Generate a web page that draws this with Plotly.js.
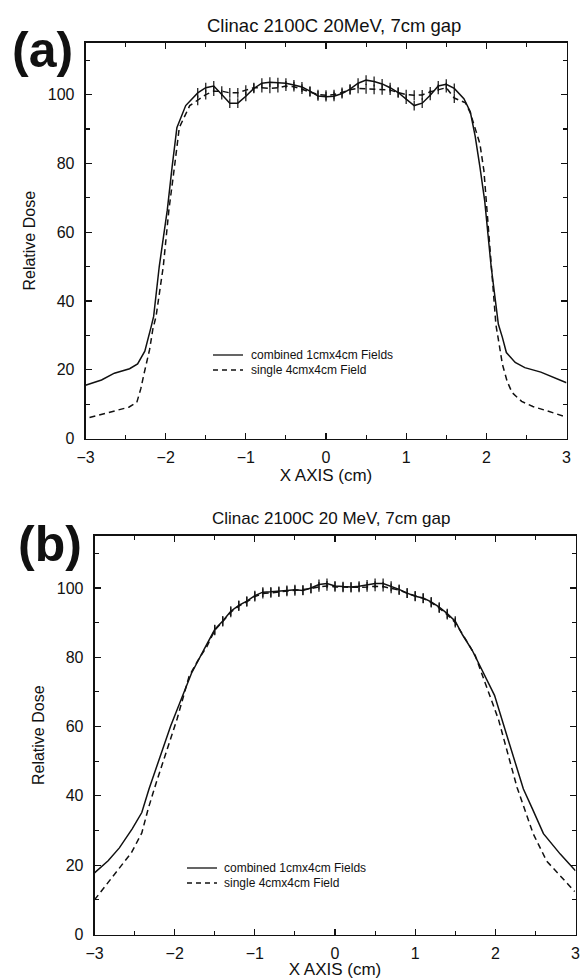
<!DOCTYPE html>
<html>
<head>
<meta charset="utf-8">
<script src="https://cdn.plot.ly/plotly-3.0.1.min.js"></script>
<style>html,body{margin:0;padding:0;background:#fff;}#chart{width:584px;height:979px;}</style>
</head>
<body>
<div id="chart"></div>
<script>
// ---------- DATA ----------
// Panel (a): Clinac 2100C 20MeV, 7cm gap
const aSolidX = [-3.0,-2.8,-2.64,-2.45,-2.35,-2.26,-2.18,-2.15,-2.08,-1.98,-1.92,-1.86,-1.75,
  -1.6,-1.5,-1.4,-1.3,-1.2,-1.1,-1.0,-0.9,-0.8,-0.7,-0.6,-0.5,-0.4,-0.3,-0.2,-0.1,0.0,
  0.1,0.2,0.3,0.4,0.5,0.6,0.7,0.8,0.9,1.0,1.1,1.2,1.3,1.4,1.5,1.6,
  1.72,1.8,1.86,1.92,1.98,2.06,2.15,2.2,2.25,2.36,2.48,2.68,2.85,3.0];
const aSolidY = [15.5,17.0,19.0,20.3,21.7,25.4,32.6,35.5,50.0,66.4,78.9,90.4,96.8,
  100.5,102.0,102.5,100.0,97.5,97.5,99.5,101.8,103.3,103.6,103.5,103.3,102.8,102.2,101.0,99.6,99.4,
  99.5,100.3,101.6,103.3,104.2,103.8,103.1,102.0,100.6,98.7,96.8,97.5,99.8,102.5,103.0,101.8,
  98.8,95.0,88.0,79.0,69.0,50.0,33.2,29.4,25.0,22.1,20.6,19.3,17.7,16.2];

const aDashX = [-2.95,-2.73,-2.57,-2.46,-2.36,-2.31,-2.27,-2.2,-2.16,-2.12,-2.03,-1.96,-1.89,-1.83,-1.7,
  -1.6,-1.5,-1.4,-1.3,-1.2,-1.1,-1.0,-0.9,-0.8,-0.7,-0.6,-0.5,-0.4,-0.3,-0.2,-0.1,0.0,
  0.1,0.2,0.3,0.4,0.5,0.6,0.7,0.8,0.9,1.0,1.1,1.2,1.3,1.4,1.5,1.6,
  1.74,1.8,1.92,1.97,2.0,2.06,2.12,2.16,2.2,2.26,2.32,2.44,2.58,2.75,3.0];
const aDashY = [6.1,7.4,8.3,9.1,10.5,14.5,18.8,25.9,31.8,35.5,50.0,66.4,79.0,90.4,96.8,
  98.3,100.0,101.0,101.0,100.5,100.5,101.3,102.0,102.0,101.8,102.0,102.5,102.3,101.6,100.8,100.0,99.8,
  100.0,100.6,101.4,101.8,101.7,101.5,101.4,101.3,100.6,100.0,99.8,99.9,100.8,101.5,102.0,99.0,
  97.6,94.7,85.7,77.8,69.0,50.0,33.0,27.4,21.6,16.6,13.4,10.8,9.3,8.1,6.2];

// Panel (b): Clinac 2100C 20 MeV, 7cm gap
const bSolidX = [-3.0,-2.83,-2.69,-2.53,-2.41,-2.32,-2.05,-1.92,-1.79,-1.63,
  -1.5,-1.4,-1.3,-1.2,-1.1,-1.0,-0.9,-0.8,-0.7,-0.6,-0.5,-0.4,-0.3,-0.2,-0.1,0.0,
  0.1,0.2,0.3,0.4,0.5,0.6,0.7,0.8,0.9,1.0,1.1,1.2,1.3,1.4,1.5,
  1.59,1.71,1.87,1.99,2.16,2.35,2.46,2.6,2.81,3.0];
const bSolidY = [17.8,21.3,25.0,30.5,35.2,42.0,60.2,68.0,75.4,82.4,
  88.0,90.5,93.3,95.0,96.2,97.8,98.8,98.9,99.0,99.3,99.5,99.3,100.0,101.0,101.3,100.6,
  100.4,100.3,100.5,100.9,101.3,101.3,100.5,99.6,98.5,97.6,97.1,96.0,94.5,92.6,90.4,
  86.5,82.1,74.8,69.0,56.2,42.0,36.4,29.1,23.2,18.4];

const bDashX = [-3.0,-2.84,-2.69,-2.54,-2.41,-2.33,-2.23,-1.97,-1.82,-1.7,-1.6,
  -1.5,-1.4,-1.3,-1.2,-1.1,-1.0,-0.9,-0.8,-0.7,-0.6,-0.5,-0.4,-0.3,-0.2,-0.1,0.0,
  0.1,0.2,0.3,0.4,0.5,0.6,0.7,0.8,0.9,1.0,1.1,1.2,1.3,1.4,1.5,
  1.6,1.75,1.87,2.04,2.27,2.47,2.64,2.99];
const bDashY = [10.0,14.7,19.0,23.6,29.3,36.3,43.8,62.2,74.5,79.5,83.0,
  87.8,90.3,93.0,94.8,96.0,97.5,98.4,98.6,98.8,99.0,99.2,99.4,99.8,100.3,100.6,100.3,
  100.2,100.1,100.2,100.3,100.5,100.4,99.9,99.4,98.5,97.7,97.0,95.8,94.2,92.3,90.0,
  86.3,80.5,72.8,62.0,42.5,29.2,21.2,12.4];

const xTickVals = [-3,-2,-1,0,1,2,3];
const yTickVals = [0,20,40,60,80,100];
const seriesNames = ['combined 1cmx4cm Fields', 'single 4cmx4cm Field'];
const titles = ['Clinac 2100C 20MeV, 7cm gap', 'Clinac 2100C 20 MeV, 7cm gap'];
const panelLabels = ['(a)', '(b)'];

// ---------- STYLE ----------
const FONT = 'Liberation Sans, Arial, Helvetica, sans-serif';
const INK = '#111111';
const W = 584, H = 979;
const px = v => v / W;
const py = v => 1 - v / H;

function markPts(xs, ys, lim) {
  const mx = [], my = [];
  xs.forEach((x, i) => { if (Math.abs(x) <= lim + 1e-9) { mx.push(x); my.push(ys[i]); } });
  return [mx, my];
}

function lineTrace(xs, ys, dash, xa, ya) {
  return {x: xs, y: ys, xaxis: xa, yaxis: ya, mode: 'lines', showlegend: false,
    line: {color: INK, width: 1.5, dash: dash}, hoverinfo: 'skip'};
}
function markTrace(xs, ys, lim, xa, ya) {
  const [mx, my] = markPts(xs, ys, lim);
  return {x: mx, y: my, xaxis: xa, yaxis: ya, mode: 'markers', showlegend: false,
    marker: {symbol: 'line-ns', size: 7, color: INK, line: {color: INK, width: 1.2}}, hoverinfo: 'skip'};
}

const DASH = '6px,4px';
const traces = [
  lineTrace(aSolidX, aSolidY, 'solid', 'x', 'y'),
  markTrace(aSolidX, aSolidY, 1.6, 'x', 'y'),
  lineTrace(aDashX, aDashY, DASH, 'x', 'y'),
  markTrace(aDashX, aDashY, 1.6, 'x', 'y'),
  lineTrace(bSolidX, bSolidY, 'solid', 'x2', 'y2'),
  markTrace(bSolidX, bSolidY, 1.5, 'x2', 'y2'),
  lineTrace(bDashX, bDashY, DASH, 'x2', 'y2'),
  markTrace(bDashX, bDashY, 1.5, 'x2', 'y2'),
];

function xAxis(domain, anchor) {
  return {domain: domain, anchor: anchor, range: [-3, 3], tickvals: xTickVals,
    ticks: 'inside', ticklen: 6, tickwidth: 1.2, tickcolor: INK,
    showline: true, linewidth: 1.8, linecolor: INK, mirror: 'ticks',
    showgrid: false, zeroline: false,
    minor: {dtick: 0.5, tick0: 0, ticks: 'inside', ticklen: 4, tickwidth: 1.1, tickcolor: INK, showgrid: false},
    tickfont: {family: FONT, size: 16, color: INK}, ticklabelstandoff: 3,
    title: {text: 'X AXIS (cm)', font: {family: FONT, size: 17, color: INK}, standoff: 3},
    fixedrange: true};
}
function yAxis(domain, anchor) {
  return {domain: domain, anchor: anchor, range: [0, 115], tickvals: yTickVals,
    ticks: 'inside', ticklen: 6, tickwidth: 1.2, tickcolor: INK,
    showline: true, linewidth: 1.8, linecolor: INK, mirror: 'ticks',
    showgrid: false, zeroline: false,
    minor: {dtick: 10, tick0: 0, ticks: 'inside', ticklen: 4, tickwidth: 1.1, tickcolor: INK, showgrid: false},
    tickfont: {family: FONT, size: 16, color: INK}, ticklabelstandoff: 6,
    title: {text: 'Relative Dose', font: {family: FONT, size: 16, color: INK}, standoff: 8},
    fixedrange: true};
}

const ann = [];
const shapes = [];
// titles & panel labels
[[334, 25, 18.5], [331, 518, 17]].forEach((p, i) => ann.push({
  xref: 'paper', yref: 'paper', x: px(p[0]), y: py(p[1]), xanchor: 'center', yanchor: 'middle',
  text: titles[i], showarrow: false, font: {family: FONT, size: p[2], color: INK}}));
[[42, 50], [50, 544]].forEach((p, i) => ann.push({
  xref: 'paper', yref: 'paper', x: px(p[0]), y: py(p[1]), xanchor: 'center', yanchor: 'middle',
  text: '<b>' + panelLabels[i] + '</b>', showarrow: false, font: {family: FONT, size: 50, color: INK}}));
// in-plot legends
[[213, 243, 250, 355, 370], [187, 217, 223, 868, 883]].forEach(L => {
  [L[3], L[4]].forEach((yy, k) => {
    shapes.push({type: 'line', xref: 'paper', yref: 'paper', x0: px(L[0]), x1: px(L[1]), y0: py(yy), y1: py(yy),
      line: {color: INK, width: 1.3, dash: k === 0 ? 'solid' : '5px,4px'}});
    ann.push({xref: 'paper', yref: 'paper', x: px(L[2]), y: py(yy), xanchor: 'left', yanchor: 'middle',
      text: seriesNames[k], showarrow: false, borderpad: 0, font: {family: FONT, size: 12, color: INK}});
  });
});

const layout = {
  width: W, height: H, margin: {l: 0, r: 0, t: 0, b: 0},
  paper_bgcolor: '#ffffff', plot_bgcolor: '#ffffff', showlegend: false,
  xaxis: xAxis([px(85.5), px(566.5)], 'y'),
  yaxis: yAxis([py(438.5), py(43)], 'x'),
  xaxis2: xAxis([px(94.5), px(575.5)], 'y2'),
  yaxis2: yAxis([py(934.5), py(536)], 'x2'),
  annotations: ann, shapes: shapes,
  font: {family: FONT, color: INK}
};

Plotly.newPlot('chart', traces, layout, {displayModeBar: false, staticPlot: true});
</script>
</body>
</html>
